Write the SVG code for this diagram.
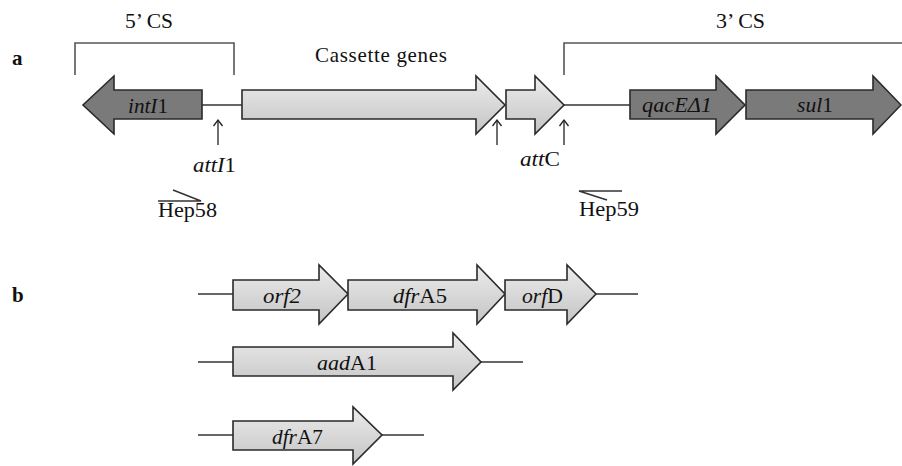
<svg xmlns="http://www.w3.org/2000/svg" width="902" height="466" viewBox="0 0 902 466">
<defs>
<linearGradient id="lg" x1="0" y1="0" x2="0" y2="1">
<stop offset="0" stop-color="#ececec"/>
<stop offset="1" stop-color="#c4c4c4"/>
</linearGradient>
<marker id="up" markerWidth="12" markerHeight="12" refX="10" refY="6" orient="auto" markerUnits="userSpaceOnUse" viewBox="0 0 12 12">
<path d="M4,1.5 L10,6 L4,10.5" fill="none" stroke="#222" stroke-width="1.3"/>
</marker>
</defs>
<style>
.t{font-family:"Liberation Serif","Times New Roman",serif;font-size:21px;fill:#111}
.i{font-style:italic}
.b{font-weight:bold}
.light{fill:url(#lg);stroke:#2a2a2a;stroke-width:1.6}
.dark{fill:#7a7a7a;stroke:#2a2a2a;stroke-width:1.6}
.ln{stroke:#333;stroke-width:1.5;fill:none}
.br{stroke:#555;stroke-width:1.6;fill:none}
.ar{stroke:#222;stroke-width:1.3;fill:none}
</style>
<rect width="902" height="466" fill="#fff"/>

<text class="t b" x="12" y="65">a</text>
<text class="t b" x="12" y="302">b</text>

<g id="connectors">
<path class="br" d="M75,75 V43 H234 V75"/>
<path class="br" d="M564,75 V43 H902"/>
<path class="ln" d="M202,105 H242"/>
<path class="ln" d="M564,105 H630"/>
<path class="ar" d="M218,145 V120" marker-end="url(#up)"/>
<path class="ar" d="M497,145 V120" marker-end="url(#up)"/>
<path class="ar" d="M564,145 V120" marker-end="url(#up)"/>
<path class="ln" d="M158,201 H201 L173,190"/>
<path class="ln" d="M622,191 H579 L607,200"/>
<path class="ln" d="M198,294 H233"/>
<path class="ln" d="M596,294 H638"/>
<path class="ln" d="M198,362 H233"/>
<path class="ln" d="M481,362 H523"/>
<path class="ln" d="M198,435 H233"/>
<path class="ln" d="M382,435 H424"/>
</g>

<text class="t" x="125" y="28" textLength="48" lengthAdjust="spacingAndGlyphs">5’ CS</text>
<text class="t" x="716" y="28" textLength="49" lengthAdjust="spacingAndGlyphs">3’ CS</text>
<text class="t" x="315" y="62" textLength="132" lengthAdjust="spacing">Cassette  genes</text>

<g id="intI1">
<path class="dark" d="M202,90 H114 V76 L83,105 L114,134 V119 H202 Z"/>
<text class="t" x="128" y="113" textLength="40" lengthAdjust="spacingAndGlyphs"><tspan class="i">intI</tspan>1</text>
</g>
<g id="cassette1">
<path class="light" d="M242,90 H476 V76 L505,105 L476,134 V119 H242 Z"/>
</g>
<g id="cassette2">
<path class="light" d="M506,90 H535 V76 L564,105 L535,134 V119 H506 Z"/>
</g>
<g id="qacE">
<path class="dark" d="M630,90 H716 V76 L745,105 L716,134 V119 H630 Z"/>
<text class="t i" x="642" y="112" textLength="70" lengthAdjust="spacingAndGlyphs">qacEΔ1</text>
</g>
<g id="sul1">
<path class="dark" d="M746,90 H873 V76 L901,105 L873,134 V119 H746 Z"/>
<text class="t" x="797" y="112" textLength="36" lengthAdjust="spacingAndGlyphs"><tspan class="i">sul</tspan>1</text>
</g>

<text class="t" x="193" y="172" textLength="43" lengthAdjust="spacingAndGlyphs"><tspan class="i">attI</tspan>1</text>
<text class="t" x="520" y="166" textLength="40" lengthAdjust="spacingAndGlyphs"><tspan class="i">att</tspan>C</text>
<text class="t" x="158" y="217" textLength="59" lengthAdjust="spacingAndGlyphs">Hep58</text>
<text class="t" x="579" y="216" textLength="60" lengthAdjust="spacingAndGlyphs">Hep59</text>

<g id="orf2">
<path class="light" d="M233,280 H319 V265 L348,294 L319,324 V310 H233 Z"/>
<text class="t i" x="263" y="303" textLength="38" lengthAdjust="spacingAndGlyphs">orf2</text>
</g>
<g id="dfrA5">
<path class="light" d="M348,280 H477 V265 L505,294 L477,324 V310 H348 Z"/>
<text class="t" x="393" y="303" textLength="54" lengthAdjust="spacingAndGlyphs"><tspan class="i">dfr</tspan>A5</text>
</g>
<g id="orfD">
<path class="light" d="M505,280 H567 V265 L596,294 L567,324 V310 H505 Z"/>
<text class="t" x="522" y="303" textLength="41" lengthAdjust="spacingAndGlyphs"><tspan class="i">orf</tspan>D</text>
</g>
<g id="aadA1">
<path class="light" d="M233,347 H453 V333 L481,362 L453,390 V376 H233 Z"/>
<text class="t" x="317" y="370" textLength="60" lengthAdjust="spacingAndGlyphs"><tspan class="i">aad</tspan>A1</text>
</g>
<g id="dfrA7">
<path class="light" d="M233,421 H353 V407 L382,435 L353,464 V450 H233 Z"/>
<text class="t" x="272" y="444" textLength="51" lengthAdjust="spacingAndGlyphs"><tspan class="i">dfr</tspan>A7</text>
</g>
</svg>
